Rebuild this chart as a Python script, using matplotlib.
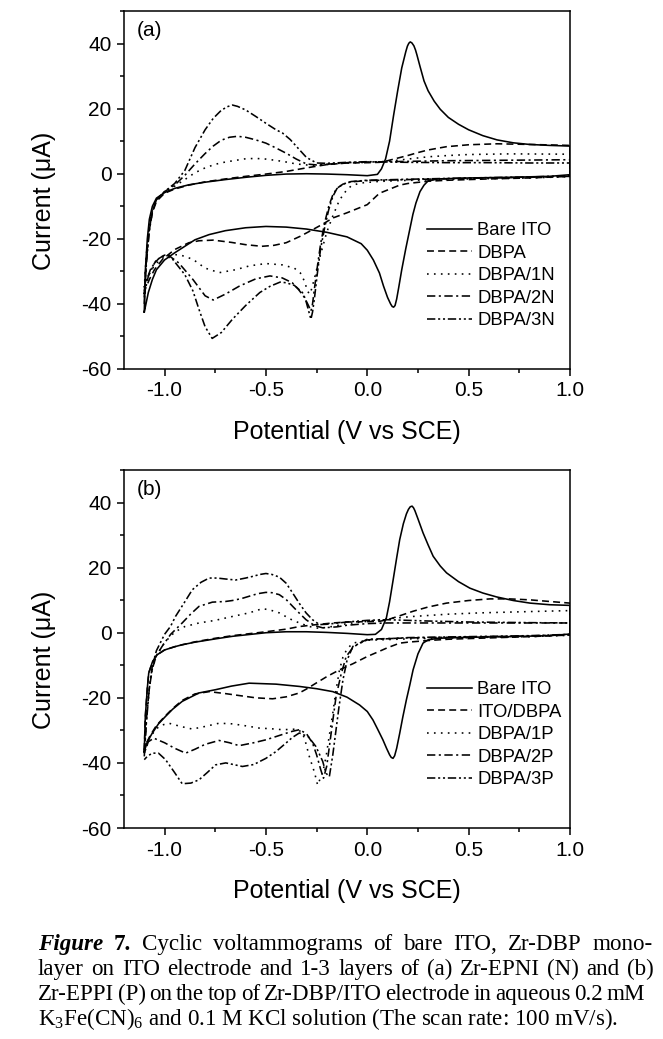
import matplotlib
matplotlib.use('Agg')
import matplotlib.pyplot as plt
from matplotlib.ticker import MultipleLocator

plt.rcParams['font.family'] = ['Liberation Sans', 'DejaVu Sans']
plt.rcParams['mathtext.fontset'] = 'custom'
plt.rcParams['mathtext.rm'] = 'Liberation Serif'
plt.rcParams['mathtext.it'] = 'Liberation Serif:italic'
plt.rcParams['mathtext.bf'] = 'Liberation Serif:bold'
plt.rcParams['lines.scale_dashes'] = False
plt.rcParams['axes.unicode_minus'] = False

# ---------------- panel (a): Zr-EPNI (N) ----------------
a_bare_up_E = [-1.10, -1.095, -1.085, -1.075, -1.06, -1.04, -1.00, -0.95, -0.88, -0.80, -0.70, -0.60, -0.50, -0.40,
               -0.30, -0.20, -0.10, 0.00, 0.05, 0.07, 0.09, 0.11, 0.13, 0.15, 0.17, 0.19, 0.198, 0.205, 0.212, 0.22,
               0.23, 0.238, 0.245, 0.26, 0.28, 0.30, 0.33, 0.36, 0.40, 0.45, 0.50, 0.57, 0.64, 0.72, 0.80, 0.90, 1.00]
a_bare_up_I = [-42.5, -30, -20, -14, -10, -7.5, -5.8, -4.5, -3.4, -2.6, -1.8, -1.1, -0.5, -0.1,
               0.0, -0.1, -0.3, -0.6, -0.2, 1.5, 4.5, 10, 18, 25.5, 32.5, 37.5, 39.2, 40.1, 40.5, 40.2,
               39.3, 38, 36.5, 33, 28.5, 25.5, 22.3, 19.8, 17.3, 15.2, 13.5, 11.7, 10.4, 9.5, 9.0, 8.7, 8.5]
a_bare_lo_E = [1.00, 0.90, 0.70, 0.50, 0.35, 0.30, 0.28, 0.26, 0.24, 0.225, 0.21, 0.19, 0.17, 0.155, 0.145, 0.137,
               0.13, 0.123, 0.115, 0.10, 0.08, 0.06, 0.03, 0.00, -0.03, -0.10, -0.20, -0.30, -0.40, -0.50, -0.60,
               -0.70, -0.78, -0.85, -0.90, -0.95, -1.00, -1.04, -1.06, -1.08, -1.10]
a_bare_lo_I = [-0.3, -0.8, -1.1, -1.3, -1.6, -2.2, -3.5, -5.5, -9, -12.5, -17, -23, -29.5, -35, -38.5, -40.5,
               -41, -40.8, -40, -38, -34.5, -30.5, -26.5, -23.5, -21.5, -19.4, -18, -17, -16.4, -16.2, -16.6,
               -17.5, -18.7, -20.3, -22.3, -24.3, -26.5, -29.5, -32.5, -36.5, -42.5]

a_dbpa_up_E = [-1.10, -1.09, -1.08, -1.06, -1.04, -1.00, -0.95, -0.88, -0.80, -0.70, -0.60, -0.50, -0.40, -0.30,
               -0.20, -0.10, 0.00, 0.06, 0.10, 0.15, 0.20, 0.25, 0.30, 0.39, 0.50, 0.64, 0.80, 1.00]
a_dbpa_up_I = [-38, -27, -19, -12, -8.5, -6, -4.7, -3.5, -2.5, -1.6, -0.8, -0.1, 0.7, 1.8,
               2.8, 3.3, 3.4, 3.5, 4.0, 4.8, 5.6, 6.5, 7.3, 8.3, 8.9, 9.2, 9.0, 8.7]
a_dbpa_lo_E = [1.00, 0.80, 0.60, 0.40, 0.30, 0.20, 0.16, 0.10, 0.06, 0.00, -0.10, -0.17, -0.22, -0.27, -0.33,
               -0.40, -0.46, -0.52, -0.60, -0.67, -0.76, -0.83, -0.88, -0.95, -1.01, -1.05, -1.075, -1.095, -1.10]
a_dbpa_lo_I = [-0.8, -1.3, -1.6, -2.0, -2.3, -3.0, -3.5, -5.0, -6.0, -9.5, -12, -13.6, -15.5, -17.2, -19.2,
               -21.2, -22, -22.3, -21.8, -21.1, -20.4, -20.6, -21.2, -23.3, -26.3, -29.5, -32.5, -35.5, -38]

a_1n_up_E = [-1.10, -1.09, -1.075, -1.06, -1.04, -1.00, -0.95, -0.90, -0.85, -0.80, -0.75, -0.70, -0.65, -0.60,
             -0.55, -0.50, -0.45, -0.40, -0.35, -0.30, -0.25, -0.20, -0.10, 0.00, 0.10, 0.20, 0.30, 0.40, 0.50,
             0.70, 1.00]
a_1n_up_I = [-35, -25, -16, -11, -8, -5.7, -3.8, -1.8, 0.3, 1.8, 2.9, 3.6, 4.1, 4.6,
             4.7, 4.5, 4.1, 3.6, 3.0, 2.7, 2.6, 2.8, 3.3, 3.5, 3.8, 4.5, 5.2, 5.6, 5.9,
             6.1, 6.0]
a_1n_lo_E = [1.00, 0.80, 0.50, 0.30, 0.16, 0.05, -0.04, -0.08, -0.10, -0.12, -0.14, -0.17, -0.20, -0.22, -0.24,
             -0.26, -0.275, -0.285, -0.295, -0.31, -0.33, -0.36, -0.42, -0.50, -0.58, -0.65, -0.73, -0.80, -0.86,
             -0.92, -0.96, -1.00, -1.04, -1.07, -1.09, -1.10]
a_1n_lo_I = [-0.9, -1.3, -1.6, -1.9, -2.1, -2.4, -2.9, -3.8, -4.9, -6.5, -8.5, -13, -18, -22.5, -27,
             -32, -35.5, -37, -36, -33, -30.5, -29, -28, -27.6, -28.3, -29.5, -30.4, -29, -26.3,
             -25, -24.8, -25.5, -27.5, -30, -33, -35]

a_2n_up_E = [-1.10, -1.09, -1.075, -1.06, -1.04, -1.00, -0.95, -0.90, -0.85, -0.80, -0.76, -0.72, -0.68, -0.64,
             -0.60, -0.55, -0.50, -0.45, -0.40, -0.35, -0.30, -0.25, -0.20, -0.10, 0.00, 0.10, 0.20, 0.40, 0.60,
             0.80, 1.00]
a_2n_up_I = [-37, -27, -17, -11.5, -8, -5.5, -3.5, -0.5, 3.0, 6.2, 8.5, 10.3, 11.2, 11.5,
             11.2, 10.4, 9.4, 7.9, 6.3, 4.5, 3.0, 2.7, 2.9, 3.4, 3.6, 3.7, 3.8, 4.0, 4.1,
             4.2, 4.3]
a_2n_lo_E = [1.00, 0.80, 0.50, 0.20, 0.00, -0.08, -0.12, -0.15, -0.17, -0.19, -0.21, -0.23, -0.245, -0.26, -0.27,
             -0.278, -0.29, -0.31, -0.34, -0.37, -0.42, -0.48, -0.55, -0.63, -0.70, -0.76, -0.80, -0.86, -0.93,
             -0.98, -1.02, -1.05, -1.08, -1.10]
a_2n_lo_I = [-0.8, -1.1, -1.4, -1.8, -2.1, -2.5, -3.2, -4.5, -6.5, -10, -15, -21.5, -28, -35, -40,
             -42.2, -40.5, -38, -35.5, -33.5, -32, -31.4, -32.3, -34.5, -37, -38.8, -37.5, -32.5, -27.4,
             -25.1, -25.5, -27.5, -31.5, -37]

a_3n_up_E = [-1.10, -1.09, -1.075, -1.06, -1.04, -1.00, -0.95, -0.90, -0.85, -0.80, -0.76, -0.72, -0.69, -0.665,
             -0.64, -0.60, -0.55, -0.50, -0.45, -0.418, -0.38, -0.335, -0.30, -0.25, -0.20, -0.10, 0.00, 0.10,
             0.20, 0.40, 0.60, 0.80, 1.00]
a_3n_up_I = [-40, -28, -17.5, -11.5, -8, -5.5, -3, 1.0, 8.0, 13.5, 17, 19.5, 20.6, 21.1,
             20.7, 19.6, 17.6, 15.5, 13.5, 12.5, 10.5, 7.4, 5.0, 3.3, 3.2, 3.5, 3.7, 3.6,
             3.5, 3.4, 3.4, 3.3, 3.3]
a_3n_lo_E = [1.00, 0.80, 0.50, 0.20, 0.00, -0.08, -0.12, -0.15, -0.17, -0.19, -0.21, -0.23, -0.245, -0.26, -0.27,
             -0.278, -0.29, -0.305, -0.32, -0.36, -0.40, -0.43, -0.48, -0.53, -0.60, -0.665, -0.72, -0.765, -0.80,
             -0.83, -0.86, -0.90, -0.96, -1.00, -1.04, -1.07, -1.09, -1.10]
a_3n_lo_I = [-0.6, -1.0, -1.3, -1.7, -2.0, -2.4, -3.2, -4.6, -7, -11, -16.5, -23, -30, -38, -42.5,
             -44.7, -42, -38.5, -36.5, -34.3, -33.5, -33.3, -34.6, -36.5, -40.5, -44.7, -48.8, -50.6, -47,
             -41.7, -36, -31, -26.3, -25, -26.5, -29.5, -33, -36]

# ---------------- panel (b): Zr-EPPI (P) ----------------
b_bare_up_E = [-1.10, -1.095, -1.085, -1.078, -1.06, -1.037, -1.00, -0.95, -0.913, -0.85, -0.75, -0.665, -0.50,
               -0.40, -0.30, -0.20, -0.10, 0.00, 0.04, 0.07, 0.094, 0.11, 0.127, 0.145, 0.16, 0.178, 0.193, 0.203,
               0.212, 0.221, 0.228, 0.235, 0.25, 0.275, 0.30, 0.325, 0.36, 0.391, 0.45, 0.506, 0.57, 0.638, 0.72,
               0.803, 0.90, 1.00]
b_bare_up_I = [-36.5, -26, -17, -12.4, -9, -6.8, -5.3, -4.3, -3.7, -2.9, -1.9, -1.1, 0.0,
               0.3, 0.3, 0.1, -0.2, -0.6, -0.5, 1.0, 4.5, 9.5, 16, 23, 28.6, 33.5, 36.5, 37.9,
               38.7, 38.9, 38.4, 37.5, 35, 30.7, 27, 23.5, 20.5, 18.4, 15.7, 13.7, 12.2, 11.0, 9.9,
               9.1, 8.6, 8.4]
b_bare_lo_E = [1.00, 0.90, 0.70, 0.50, 0.35, 0.30, 0.275, 0.25, 0.226, 0.21, 0.193, 0.175, 0.16, 0.145, 0.135,
               0.127, 0.118, 0.11, 0.095, 0.077, 0.05, 0.028, 0.00, -0.038, -0.10, -0.17, -0.25, -0.335, -0.45,
               -0.583, -0.67, -0.748, -0.83, -0.913, -0.96, -0.995, -1.03, -1.061, -1.085, -1.10]
b_bare_lo_I = [-0.4, -0.9, -1.2, -1.4, -1.7, -2.2, -3.2, -6.5, -11.4, -16, -20.6, -26, -30.9, -35.5, -37.8,
               -38.6, -38.3, -37.5, -35.5, -32.9, -29.5, -26.8, -24.2, -22.2, -19.8, -18.1, -17.2, -16.5, -15.8,
               -15.5, -16.4, -17.5, -18.5, -21.1, -23.5, -25.7, -28, -30.9, -33.5, -36.5]

b_dbpa_up_E = [-1.10, -1.095, -1.085, -1.078, -1.06, -1.037, -1.00, -0.95, -0.913, -0.85, -0.75, -0.665, -0.50,
               -0.40, -0.335, -0.25, -0.17, -0.10, 0.00, 0.06, 0.10, 0.15, 0.226, 0.30, 0.391, 0.50, 0.606, 0.70,
               0.803, 0.90, 1.00]
b_dbpa_up_I = [-36, -26, -17, -12.4, -9, -6.8, -5.3, -4.3, -3.7, -2.8, -1.7, -0.9, 0.3,
               1.1, 1.9, 2.5, 3.0, 3.3, 3.4, 3.5, 4.0, 5.0, 6.6, 7.9, 9.1, 9.9, 10.4, 10.4,
               10.1, 9.6, 9.1]
b_dbpa_lo_E = [1.00, 0.80, 0.60, 0.40, 0.30, 0.20, 0.16, 0.10, 0.06, 0.00, -0.07, -0.137, -0.20, -0.253, -0.30,
               -0.335, -0.40, -0.467, -0.55, -0.632, -0.70, -0.78, -0.85, -0.913, -0.96, -1.00, -1.04, -1.07, -1.09,
               -1.10]
b_dbpa_lo_I = [-0.7, -1.2, -1.6, -2.0, -2.4, -2.9, -3.2, -4.6, -5.7, -7.3, -9.5, -11.4, -13.5, -15.5, -17.3,
               -18.5, -19.7, -20.3, -20.0, -19.3, -18.7, -18.1, -18.8, -20.8, -23.3, -25.8, -28.5, -31.5, -34,
               -36]

b_1p_up_E = [-1.10, -1.09, -1.08, -1.06, -1.04, -1.00, -0.95, -0.90, -0.83, -0.75, -0.665, -0.583, -0.517, -0.48,
             -0.434, -0.38, -0.335, -0.29, -0.253, -0.20, -0.10, 0.00, 0.10, 0.226, 0.40, 0.556, 0.80, 1.00]
b_1p_up_I = [-37, -27, -19, -11, -7, -3, 0.2, 1.9, 3.0, 3.8, 5.0, 6.1, 7.4, 7.0,
             6.1, 4.2, 3.0, 2.0, 1.4, 1.6, 2.8, 3.5, 4.3, 5.0, 5.7, 6.1, 6.5, 6.8]
b_1p_lo_E = [1.00, 0.80, 0.50, 0.20, 0.00, -0.071, -0.10, -0.12, -0.137, -0.155, -0.17, -0.187, -0.203, -0.22,
             -0.245, -0.26, -0.286, -0.305, -0.319, -0.344, -0.38, -0.418, -0.475, -0.533, -0.60, -0.665, -0.731,
             -0.80, -0.863, -0.92, -0.979, -1.02, -1.045, -1.075, -1.10]
b_1p_lo_I = [-0.8, -1.2, -1.5, -1.9, -2.3, -3.2, -5, -7.5, -11.4, -18, -24.7, -31.5, -38, -43,
             -46.8, -43, -38, -33.5, -30.9, -29.6, -29.7, -29.8, -29.5, -29.3, -28.6, -28.0, -27.8,
             -28.8, -29.6, -28.8, -27.8, -28.5, -29.8, -32.5, -37]

b_2p_up_E = [-1.10, -1.09, -1.075, -1.06, -1.04, -1.012, -0.97, -0.913, -0.87, -0.83, -0.764, -0.70, -0.665,
             -0.62, -0.583, -0.54, -0.50, -0.47, -0.434, -0.40, -0.368, -0.335, -0.302, -0.26, -0.22, -0.15,
             -0.10, 0.00, 0.10, 0.30, 0.50, 0.80, 1.00]
b_2p_up_I = [-37, -27, -17, -11, -7, -4.2, -0.5, 3.0, 5.8, 8.1, 9.4, 9.6, 9.9,
             10.5, 11.2, 12.0, 12.4, 12.3, 11.7, 10.2, 8.1, 6.0, 4.0, 2.2, 1.5, 1.8,
             2.3, 2.8, 3.0, 3.0, 3.0, 3.0, 3.0]
b_2p_lo_E = [1.00, 0.80, 0.50, 0.20, 0.00, -0.038, -0.07, -0.104, -0.13, -0.154, -0.17, -0.187, -0.20, -0.216,
             -0.23, -0.25, -0.27, -0.30, -0.335, -0.37, -0.401, -0.45, -0.50, -0.56, -0.632, -0.68, -0.731, -0.80,
             -0.85, -0.896, -0.95, -1.00, -1.053, -1.08, -1.10]
b_2p_lo_I = [-0.6, -1.0, -1.3, -1.6, -2.0, -3.2, -4.5, -7.3, -13, -19.6, -27, -35, -41, -44.7,
             -42, -37.5, -33.9, -31, -29.8, -30.3, -30.9, -31.9, -32.9, -33.8, -34.7, -33.8, -33.1, -34.3,
             -35.8, -37, -35.5, -33.8, -32.4, -33.5, -37]

b_3p_up_E = [-1.10, -1.09, -1.075, -1.06, -1.04, -1.00, -0.97, -0.946, -0.90, -0.863, -0.82, -0.78, -0.74,
             -0.698, -0.649, -0.60, -0.566, -0.53, -0.50, -0.47, -0.434, -0.40, -0.368, -0.335, -0.302, -0.27,
             -0.236, -0.20, -0.10, 0.00, 0.10, 0.30, 0.50, 0.80, 1.00]
b_3p_up_I = [-38, -28, -17, -10, -5.5, -0.5, 2.0, 5.0, 9.5, 13.2, 15.5, 16.8, 16.8,
             16.5, 16.2, 16.8, 17.3, 17.9, 18.2, 17.9, 17.1, 15.2, 12.2, 9.0, 6.1, 4.0,
             2.5, 2.6, 3.3, 3.8, 4.0, 3.6, 3.3, 3.1, 3.0]
b_3p_lo_E = [1.00, 0.80, 0.50, 0.20, 0.00, -0.071, -0.10, -0.12, -0.14, -0.154, -0.17, -0.187, -0.203, -0.22,
             -0.253, -0.29, -0.335, -0.37, -0.401, -0.45, -0.50, -0.56, -0.616, -0.66, -0.698, -0.748, -0.79,
             -0.83, -0.87, -0.913, -0.95, -0.995, -1.03, -1.061, -1.085, -1.10]
b_3p_lo_I = [-0.5, -0.9, -1.2, -1.5, -2.2, -4.2, -8.5, -14.5, -23, -29.8, -37.5, -44.2, -43.2, -39.5,
             -35, -32, -30.8, -32.2, -33.9, -36.5, -38.6, -40.5, -41.1, -40.5, -40.0, -40.6, -43,
             -45.2, -46.2, -46.4, -43, -39, -37, -37, -38, -39]

a_labels = ['Bare ITO', 'DBPA', 'DBPA/1N', 'DBPA/2N', 'DBPA/3N']
b_labels = ['Bare ITO', 'ITO/DBPA', 'DBPA/1P', 'DBPA/2P', 'DBPA/3P']

styles = ['-', (0, (5, 3)), (0, (1.2, 3.8)), (0, (6, 2.5, 1.5, 2.5)), (0, (6, 2, 1.5, 2, 1.5, 2))]

a_curves = [(a_bare_up_E, a_bare_up_I, a_bare_lo_E, a_bare_lo_I),
            (a_dbpa_up_E, a_dbpa_up_I, a_dbpa_lo_E, a_dbpa_lo_I),
            (a_1n_up_E, a_1n_up_I, a_1n_lo_E, a_1n_lo_I),
            (a_2n_up_E, a_2n_up_I, a_2n_lo_E, a_2n_lo_I),
            (a_3n_up_E, a_3n_up_I, a_3n_lo_E, a_3n_lo_I)]
b_curves = [(b_bare_up_E, b_bare_up_I, b_bare_lo_E, b_bare_lo_I),
            (b_dbpa_up_E, b_dbpa_up_I, b_dbpa_lo_E, b_dbpa_lo_I),
            (b_1p_up_E, b_1p_up_I, b_1p_lo_E, b_1p_lo_I),
            (b_2p_up_E, b_2p_up_I, b_2p_lo_E, b_2p_lo_I),
            (b_3p_up_E, b_3p_up_I, b_3p_lo_E, b_3p_lo_I)]

W, H = 663, 1039
fig = plt.figure(figsize=(W / 100, H / 100), dpi=100)


def panel(rect, curves, labels, tag):
    ax = fig.add_axes(rect)
    for (ue, ui, le, li), lab, ls in zip(curves, labels, styles):
        ax.plot(ue + le, ui + li, color='black', lw=1.15, ls=ls, label=lab)
    ax.set_xlim(-1.2, 1.0)
    ax.set_ylim(-60, 50)
    ax.xaxis.set_major_locator(MultipleLocator(0.5))
    ax.xaxis.set_minor_locator(MultipleLocator(0.25))
    ax.yaxis.set_major_locator(MultipleLocator(20))
    ax.yaxis.set_minor_locator(MultipleLocator(10))
    ax.tick_params(which='major', direction='out', length=5, width=1.1, labelsize=15, pad=4)
    ax.tick_params(which='minor', direction='out', length=3, width=1.1)
    for s in ax.spines.values():
        s.set_linewidth(1.1)
    ax.set_xlabel('Potential (V vs SCE)', fontsize=18, labelpad=14)
    ax.set_ylabel('Current (\u03bcA)', fontsize=18)
    ax.yaxis.set_label_coords(-0.152, 0.47)
    ax.text(0.028, 0.945, tag, transform=ax.transAxes, fontsize=15, va='center', ha='left')
    ax.legend(loc='upper left', bbox_to_anchor=(0.68, 0.41), frameon=False, fontsize=13.3,
              handlelength=2.4, handletextpad=0.3, labelspacing=0.3, borderpad=0, borderaxespad=0)
    return ax


panel([124 / W, 1 - 369 / H, 446 / W, 358 / H], a_curves, a_labels, '(a)')
panel([124 / W, 1 - 828 / H, 446 / W, 358 / H], b_curves, b_labels, '(b)')

# caption, justified like the journal page
serif = 'Liberation Serif'
cap_size = 16.6
line1 = [('Figure', dict(weight='bold', style='italic')), ('7.', dict(weight='bold'))] + \
        [(w, {}) for w in 'Cyclic voltammograms of bare ITO, Zr-DBP mono-'.split()]
line2 = [(w, {}) for w in 'layer on ITO electrode and 1-3 layers of (a) Zr-EPNI (N) and (b)'.split()]
line3 = [(w, {}) for w in 'Zr-EPPI (P) on the top of Zr-DBP/ITO electrode in aqueous 0.2 mM'.split()]

renderer = fig.canvas.get_renderer()


def justify(words, x0, x1, y):
    texts = [fig.text(0, 1 - y / H, w, family=serif, fontsize=cap_size, va='baseline', ha='left', **kw)
             for w, kw in words]
    widths = [t.get_window_extent(renderer).width for t in texts]
    gap = (x1 - x0 - sum(widths)) / (len(texts) - 1)
    x = x0
    for t, wd in zip(texts, widths):
        t.set_x(x / W)
        x += wd + gap


justify(line1, 38, 653, 950)
justify(line2, 38, 654, 975)
justify(line3, 38, 645, 1000)
fig.text(38 / W, 1 - 1025 / H, r'K$_3$Fe(CN)$_6$ and 0.1 M KCl solution (The scan rate: 100 mV/s).',
         family=serif, fontsize=cap_size, va='baseline', ha='left')

fig.savefig('out.png', dpi=100)
